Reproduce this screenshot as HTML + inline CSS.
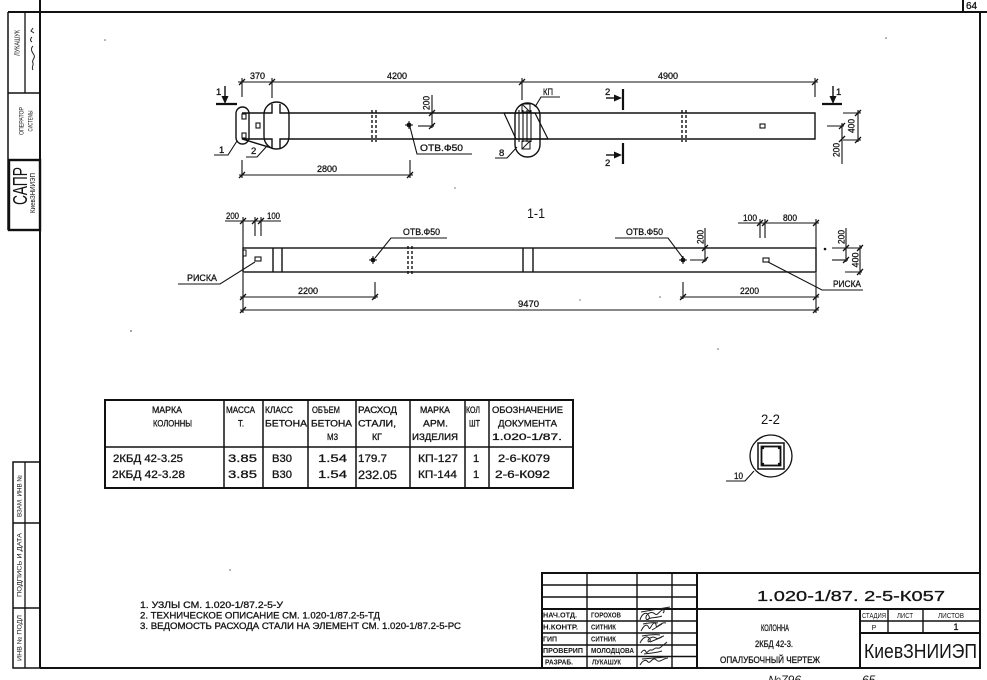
<!DOCTYPE html>
<html><head><meta charset="utf-8">
<style>
html,body{margin:0;padding:0;background:#fff;}
svg{display:block;}
text{font-family:"Liberation Sans","DejaVu Sans",sans-serif;fill:#151515;stroke:#151515;stroke-width:0.3;}
.thin{stroke-width:0;}
</style></head><body>
<svg width="987" height="680" viewBox="0 0 987 680" xmlns="http://www.w3.org/2000/svg">
<rect width="987" height="680" fill="#fff"/>

<!-- ================= FRAME ================= -->
<g stroke="#111" fill="none" stroke-width="2">
  <line x1="40" y1="0" x2="40" y2="668"/>
  <line x1="8" y1="12" x2="987" y2="12"/>
  <line x1="963" y1="0" x2="963" y2="12"/>
  <line x1="980" y1="12" x2="980" y2="668"/>
  <line x1="40" y1="668" x2="980" y2="668"/>
  <line x1="8" y1="12" x2="8" y2="230" stroke-width="1.5"/>
  <line x1="8" y1="93" x2="40" y2="93" stroke-width="1.5"/>
  <line x1="8" y1="160" x2="40" y2="160" stroke-width="1.5"/>
  <line x1="25" y1="12" x2="25" y2="93" stroke-width="1.3"/>
  <rect x="9" y="160" width="31" height="70" stroke-width="2.4"/>
  <rect x="13" y="462" width="27" height="206" stroke-width="1.5"/>
  <line x1="13" y1="523" x2="40" y2="523" stroke-width="1.5"/>
  <line x1="13" y1="608" x2="40" y2="608" stroke-width="1.5"/>
  <line x1="25" y1="462" x2="25" y2="668" stroke-width="1.3"/>
</g>
<text x="966" y="9" font-size="10">64</text>

<!-- left margin labels -->
<text class="thin" transform="translate(19.5,43) rotate(-90)" text-anchor="middle" font-size="7" textLength="26" lengthAdjust="spacingAndGlyphs">ЛУКАШУК</text>
<path d="M33,28 l-2,3 l3,2 M32,37 q-3,3 0,5 M33,46 c-3,3 -1,6 1,9 c2,3 -3,5 -1,8 c1,2 -2,4 0,7" stroke="#222" stroke-width="1" fill="none"/>
<text class="thin" transform="translate(23.5,121) rotate(-90)" text-anchor="middle" font-size="6.5" textLength="28" lengthAdjust="spacingAndGlyphs">ОПЕРАТОР</text>
<text class="thin" transform="translate(32.5,121) rotate(-90)" text-anchor="middle" font-size="6.5" textLength="21" lengthAdjust="spacingAndGlyphs">СИСТЕМЫ</text>
<text class="thin" transform="translate(27,186) rotate(-90)" text-anchor="middle" font-size="20" textLength="38" lengthAdjust="spacingAndGlyphs">САПР</text>
<text class="thin" transform="translate(35,193) rotate(-90)" text-anchor="middle" font-size="7" textLength="40" lengthAdjust="spacingAndGlyphs">КиевЗНИИЭП</text>
<text class="thin" transform="translate(21.5,496) rotate(-90)" text-anchor="middle" font-size="6.5" textLength="42" lengthAdjust="spacingAndGlyphs">ВЗАМ. ИНВ №</text>
<text class="thin" transform="translate(21.5,565) rotate(-90)" text-anchor="middle" font-size="6.5" textLength="64" lengthAdjust="spacingAndGlyphs">ПОДПИСЬ И ДАТА</text>
<text class="thin" transform="translate(21.5,638) rotate(-90)" text-anchor="middle" font-size="6.5" textLength="46" lengthAdjust="spacingAndGlyphs">ИНВ № ПОДЛ</text>

<!-- ================= TOP VIEW ================= -->
<g stroke="#111" fill="none" stroke-width="1.4">
  <path d="M242,113 H272 V104 M280,104 V113 H815 V139 H280 V148 M272,148 V139 H242 Z"/>
  <rect x="242" y="114" width="4" height="5" stroke-width="1.1"/>
  <rect x="242" y="133" width="4" height="5" stroke-width="1.1"/>
  <rect x="236" y="107" width="13" height="37" rx="6.5"/>
  <rect x="264" y="102" width="25" height="47" rx="12.5"/>
  <rect x="256" y="123" width="4" height="5" stroke-width="1.1"/>
  <line x1="372" y1="110" x2="372" y2="142" stroke-dasharray="3,2"/>
  <line x1="376" y1="110" x2="376" y2="142" stroke-dasharray="3,2"/>
  <line x1="682" y1="110" x2="682" y2="142" stroke-dasharray="3,2"/>
  <line x1="686" y1="110" x2="686" y2="142" stroke-dasharray="3,2"/>
  <rect x="760" y="124" width="5" height="4" stroke-width="1.1"/>
  <rect x="515" y="103" width="25" height="54" rx="12.5"/>
  <path d="M504,113 L516,139 M535,113 L548,139 M504,113 H535 M516,139 H548" stroke-width="1.2"/>
  <path d="M519,110 V142 M523,110 V142 M527,110 V142 M531,110 V142" stroke-width="1.1"/>
  <path d="M522,104 h8 v8 h-8 z M522,104 L530,112 M522,141 h8 v8 h-8 z M530,141 L522,149" stroke-width="1"/>
  <path d="M237,141 L228,155 H214" stroke-width="1.1"/>
  <path d="M267,146 L257,157 H246" stroke-width="1.1"/>
  <path d="M517,147 L507,158 H495" stroke-width="1.1"/>
  <path d="M535,107 L541,97 H560" stroke-width="1.1"/>
  <path d="M410,127 L417,154 H472" stroke-width="1.1"/>
  <g stroke-width="1.1">
    <line x1="238" y1="82" x2="818" y2="82"/>
    <line x1="242" y1="78" x2="242" y2="97"/>
    <line x1="272" y1="78" x2="272" y2="98"/>
    <line x1="522" y1="78" x2="522" y2="100"/>
    <line x1="815" y1="78" x2="815" y2="97"/>
    <line x1="239" y1="175" x2="413" y2="175"/>
    <line x1="242" y1="160" x2="242" y2="178"/>
    <line x1="410" y1="160" x2="410" y2="178"/>
    <line x1="432" y1="95" x2="432" y2="128"/>
    <line x1="418" y1="126" x2="434" y2="126"/>
    <line x1="858" y1="110" x2="858" y2="142"/>
    <line x1="843" y1="113" x2="861" y2="113"/>
    <line x1="843" y1="140" x2="861" y2="140"/>
    <line x1="842" y1="123" x2="842" y2="164"/>
    <line x1="827" y1="126" x2="844" y2="126"/>
  </g>
  <g stroke-width="1.3">
    <path d="M239,85 l6,-6 M269,85 l6,-6 M519,85 l6,-6 M812,85 l6,-6 M239,178 l6,-6 M407,178 l6,-6"/>
    <path d="M429,116 l6,-6 M429,129 l6,-6 M855,116 l6,-6 M855,143 l6,-6 M839,129 l6,-6 M839,142 l6,-6"/>
  </g>
  <line x1="216" y1="104" x2="237" y2="104" stroke-width="2.2"/>
  <line x1="225" y1="86" x2="225" y2="99"/>
  <line x1="822" y1="104" x2="842" y2="104" stroke-width="2.2"/>
  <line x1="833" y1="86" x2="833" y2="99"/>
  <line x1="623" y1="89" x2="623" y2="110" stroke-width="2.2"/>
  <line x1="606" y1="98" x2="617" y2="98"/>
  <line x1="623" y1="143" x2="623" y2="164" stroke-width="2.2"/>
  <line x1="606" y1="155" x2="617" y2="155"/>
</g>
<g fill="#111">
  <polygon points="221.5,96 228.5,96 225,104"/>
  <polygon points="829.5,96 836.5,96 833,104"/>
  <polygon points="614,94.5 614,101.5 622,98"/>
  <polygon points="614,151.5 614,158.5 622,155"/>
  <circle cx="409" cy="125" r="2.4"/>
  <path d="M405,125 h8 M409,121 v8" stroke="#111" stroke-width="1"/>
</g>
<g font-size="9.5">
  <text x="250" y="79" textLength="15" lengthAdjust="spacingAndGlyphs">370</text>
  <text x="387" y="79" textLength="20" lengthAdjust="spacingAndGlyphs">4200</text>
  <text x="658" y="79" textLength="20" lengthAdjust="spacingAndGlyphs">4900</text>
  <text x="317" y="172" textLength="20" lengthAdjust="spacingAndGlyphs">2800</text>
  <text x="420" y="151" textLength="43" lengthAdjust="spacingAndGlyphs">ОТВ.Ф50</text>
  <text x="216" y="95">1</text>
  <text x="836" y="95">1</text>
  <text x="219" y="153">1</text>
  <text x="251" y="154">2</text>
  <text x="499" y="156">8</text>
  <text x="543" y="95" textLength="10" lengthAdjust="spacingAndGlyphs">КП</text>
  <text x="605" y="95">2</text>
  <text x="605" y="166">2</text>
  <text transform="translate(429.5,103) rotate(-90)" text-anchor="middle" textLength="14" lengthAdjust="spacingAndGlyphs">200</text>
  <text transform="translate(854.5,126) rotate(-90)" text-anchor="middle" textLength="14" lengthAdjust="spacingAndGlyphs">400</text>
  <text transform="translate(839.5,150) rotate(-90)" text-anchor="middle" textLength="14" lengthAdjust="spacingAndGlyphs">200</text>
</g>

<!-- ================= SECTION 1-1 ================= -->
<text class="thin" x="527" y="218" font-size="13.5" textLength="18" lengthAdjust="spacingAndGlyphs">1-1</text>
<g stroke="#111" fill="none" stroke-width="1.4">
  <rect x="243" y="248" width="573" height="24"/>
  <path d="M243,250 h3 v6 h-3" stroke-width="1"/>
  <line x1="273" y1="248" x2="273" y2="272"/>
  <line x1="282" y1="248" x2="282" y2="272"/>
  <line x1="523" y1="248" x2="523" y2="272"/>
  <line x1="533" y1="248" x2="533" y2="272"/>
  <line x1="408" y1="246" x2="408" y2="274" stroke-dasharray="3,2"/>
  <line x1="412" y1="246" x2="412" y2="274" stroke-dasharray="3,2"/>
  <rect x="255" y="257" width="6" height="4" stroke-width="1.1"/>
  <rect x="763" y="258" width="6" height="4" stroke-width="1.1"/>
  <g stroke-width="1.1">
    <path d="M255,262 L220,284 H178"/>
    <path d="M375,258 L391,238 H447"/>
    <path d="M683,258 L668,238 H615"/>
    <path d="M768,262 L822,290 H863"/>
    <line x1="225" y1="221" x2="281" y2="221"/>
    <line x1="243" y1="217" x2="243" y2="248"/>
    <line x1="255" y1="217" x2="255" y2="236"/>
    <line x1="261" y1="217" x2="261" y2="236"/>
    <line x1="738" y1="223" x2="819" y2="223"/>
    <line x1="760" y1="219" x2="760" y2="238"/>
    <line x1="765" y1="219" x2="765" y2="238"/>
    <line x1="816" y1="219" x2="816" y2="248"/>
    <line x1="705" y1="228" x2="705" y2="262"/>
    <line x1="690" y1="260" x2="707" y2="260"/>
    <line x1="846" y1="228" x2="846" y2="262"/>
    <line x1="860" y1="245" x2="860" y2="275"/>
    <line x1="832" y1="248" x2="862" y2="248"/>
    <line x1="832" y1="260" x2="848" y2="260"/>
    <line x1="845" y1="272" x2="862" y2="272"/>
    <line x1="240" y1="297" x2="378" y2="297"/>
    <line x1="680" y1="297" x2="819" y2="297"/>
    <line x1="240" y1="310" x2="819" y2="310"/>
    <line x1="243" y1="273" x2="243" y2="313"/>
    <line x1="816" y1="273" x2="816" y2="313"/>
    <line x1="375" y1="282" x2="375" y2="299"/>
    <line x1="683" y1="282" x2="683" y2="299"/>
  </g>
  <g stroke-width="1.3">
    <path d="M240,224 l6,-6 M252,224 l6,-6 M258,224 l6,-6 M757,226 l6,-6 M762,226 l6,-6 M813,226 l6,-6"/>
    <path d="M702,251 l6,-6 M702,263 l6,-6 M843,251 l6,-6 M843,263 l6,-6 M857,251 l6,-6 M857,275 l6,-6"/>
    <path d="M240,300 l6,-6 M372,300 l6,-6 M680,300 l6,-6 M813,300 l6,-6 M240,313 l6,-6 M813,313 l6,-6"/>
  </g>
</g>
<g fill="#111">
  <circle cx="373" cy="260" r="2.4"/>
  <path d="M369,260 h8 M373,256 v8" stroke="#111" stroke-width="1"/>
  <circle cx="683" cy="260" r="2.4"/>
  <path d="M679,260 h8 M683,256 v8" stroke="#111" stroke-width="1"/>
  <circle cx="825" cy="249" r="1.3"/>
</g>
<g font-size="9.5">
  <text x="226" y="219" textLength="13" lengthAdjust="spacingAndGlyphs">200</text>
  <text x="267" y="219" textLength="13" lengthAdjust="spacingAndGlyphs">100</text>
  <text x="403" y="235" textLength="37" lengthAdjust="spacingAndGlyphs">ОТВ.Ф50</text>
  <text x="626" y="235" textLength="37" lengthAdjust="spacingAndGlyphs">ОТВ.Ф50</text>
  <text x="743" y="221" textLength="14" lengthAdjust="spacingAndGlyphs">100</text>
  <text x="783" y="221" textLength="14" lengthAdjust="spacingAndGlyphs">800</text>
  <text x="187" y="281" textLength="30" lengthAdjust="spacingAndGlyphs">РИСКА</text>
  <text x="833" y="287" textLength="28" lengthAdjust="spacingAndGlyphs">РИСКА</text>
  <text x="298" y="294" textLength="20" lengthAdjust="spacingAndGlyphs">2200</text>
  <text x="518" y="307" textLength="21" lengthAdjust="spacingAndGlyphs">9470</text>
  <text x="740" y="294" textLength="19" lengthAdjust="spacingAndGlyphs">2200</text>
  <text transform="translate(703.5,237) rotate(-90)" text-anchor="middle" textLength="14" lengthAdjust="spacingAndGlyphs">200</text>
  <text transform="translate(844.5,237) rotate(-90)" text-anchor="middle" textLength="14" lengthAdjust="spacingAndGlyphs">200</text>
  <text transform="translate(858.5,260) rotate(-90)" text-anchor="middle" textLength="15" lengthAdjust="spacingAndGlyphs">400</text>
</g>

<!-- ================= TABLE ================= -->
<g stroke="#111" fill="none">
  <rect x="105" y="400" width="468" height="88" stroke-width="2"/>
  <line x1="105" y1="447" x2="573" y2="447" stroke-width="1.6"/>
  <g stroke-width="1.5">
    <line x1="224" y1="400" x2="224" y2="488"/>
    <line x1="263" y1="400" x2="263" y2="488"/>
    <line x1="308" y1="400" x2="308" y2="488"/>
    <line x1="356" y1="400" x2="356" y2="488"/>
    <line x1="410" y1="400" x2="410" y2="488"/>
    <line x1="465" y1="400" x2="465" y2="488"/>
    <line x1="489" y1="400" x2="489" y2="488"/>
  </g>
</g>
<g font-size="9.5">
  <text x="152" y="413" textLength="30" lengthAdjust="spacingAndGlyphs">МАРКА</text>
  <text x="153" y="426.5" textLength="39" lengthAdjust="spacingAndGlyphs">КОЛОННЫ</text>
  <text x="226" y="413" textLength="29" lengthAdjust="spacingAndGlyphs">МАССА</text>
  <text x="238" y="426.5" textLength="6" lengthAdjust="spacingAndGlyphs">Т.</text>
  <text x="265" y="413" textLength="28" lengthAdjust="spacingAndGlyphs">КЛАСС</text>
  <text x="265" y="426.5" textLength="42" lengthAdjust="spacingAndGlyphs">БЕТОНА</text>
  <text x="312" y="413" textLength="28" lengthAdjust="spacingAndGlyphs">ОБЪЕМ</text>
  <text x="311" y="426.5" textLength="41" lengthAdjust="spacingAndGlyphs">БЕТОНА</text>
  <text x="327" y="440" textLength="11" lengthAdjust="spacingAndGlyphs">М3</text>
  <text x="358" y="413" textLength="39" lengthAdjust="spacingAndGlyphs">РАСХОД</text>
  <text x="358" y="426.5" textLength="38" lengthAdjust="spacingAndGlyphs">СТАЛИ,</text>
  <text x="372" y="440" textLength="10" lengthAdjust="spacingAndGlyphs">КГ</text>
  <text x="420" y="413" textLength="30" lengthAdjust="spacingAndGlyphs">МАРКА</text>
  <text x="423" y="426.5" textLength="25" lengthAdjust="spacingAndGlyphs">АРМ.</text>
  <text x="412" y="440" textLength="46" lengthAdjust="spacingAndGlyphs">ИЗДЕЛИЯ</text>
  <text x="466" y="413" textLength="14" lengthAdjust="spacingAndGlyphs">КОЛ</text>
  <text x="469" y="426.5" textLength="11" lengthAdjust="spacingAndGlyphs">ШТ</text>
  <text x="492" y="413" textLength="71" lengthAdjust="spacingAndGlyphs">ОБОЗНАЧЕНИЕ</text>
  <text x="498" y="426.5" textLength="59" lengthAdjust="spacingAndGlyphs">ДОКУМЕНТА</text>
  <text x="492" y="440" textLength="70" lengthAdjust="spacingAndGlyphs">1.020-1/87.</text>
</g>
<g font-size="11">
  <text x="113" y="462" textLength="70" lengthAdjust="spacingAndGlyphs">2КБД 42-3.25</text>
  <text x="228" y="462" textLength="29" lengthAdjust="spacingAndGlyphs">3.85</text>
  <text x="272" y="462" textLength="20" lengthAdjust="spacingAndGlyphs">В30</text>
  <text x="318" y="462" textLength="29" lengthAdjust="spacingAndGlyphs">1.54</text>
  <text x="358" y="462" textLength="29" lengthAdjust="spacingAndGlyphs">179.7</text>
  <text x="418" y="462" textLength="40" lengthAdjust="spacingAndGlyphs">КП-127</text>
  <text x="473" y="462">1</text>
  <text x="498" y="462" textLength="52" lengthAdjust="spacingAndGlyphs">2-6-К079</text>
  <text x="112" y="478" textLength="73" lengthAdjust="spacingAndGlyphs">2КБД 42-3.28</text>
  <text x="228" y="478" textLength="29" lengthAdjust="spacingAndGlyphs">3.85</text>
  <text x="272" y="478" textLength="20" lengthAdjust="spacingAndGlyphs">В30</text>
  <text x="318" y="478" textLength="29" lengthAdjust="spacingAndGlyphs">1.54</text>
  <text x="358" y="479" font-size="12" textLength="39" lengthAdjust="spacingAndGlyphs">232.05</text>
  <text x="418" y="478" textLength="39" lengthAdjust="spacingAndGlyphs">КП-144</text>
  <text x="473" y="478">1</text>
  <text x="495" y="478" textLength="55" lengthAdjust="spacingAndGlyphs">2-6-К092</text>
</g>

<!-- ================= SECTION 2-2 ================= -->
<text class="thin" x="761" y="424" font-size="13.5" textLength="19" lengthAdjust="spacingAndGlyphs">2-2</text>
<g stroke="#111" fill="none" stroke-width="1.3">
  <circle cx="771" cy="456" r="21"/>
  <rect x="758" y="443" width="26" height="26" stroke-width="1.5"/>
  <rect x="761.5" y="446.5" width="19" height="19" stroke-width="1.8"/>
  <path d="M754,471 L745,481 H726" stroke-width="1.1"/>
</g>
<g fill="#111">
  <circle cx="763" cy="448" r="1.2"/><circle cx="779" cy="448" r="1.2"/>
  <circle cx="763" cy="464" r="1.2"/><circle cx="779" cy="464" r="1.2"/>
</g>
<text x="734" y="479" font-size="9.5" textLength="9" lengthAdjust="spacingAndGlyphs">10</text>

<!-- ================= NOTES ================= -->
<g font-size="9.5">
  <text x="140" y="608" textLength="143" lengthAdjust="spacingAndGlyphs">1. УЗЛЫ СМ. 1.020-1/87.2-5-У</text>
  <text x="140" y="618.5" textLength="240" lengthAdjust="spacingAndGlyphs">2. ТЕХНИЧЕСКОЕ ОПИСАНИЕ СМ. 1.020-1/87.2-5-ТД</text>
  <text x="140" y="629" textLength="321" lengthAdjust="spacingAndGlyphs">3. ВЕДОМОСТЬ РАСХОДА СТАЛИ НА ЭЛЕМЕНТ СМ. 1.020-1/87.2-5-РС</text>
</g>

<!-- ================= TITLE BLOCK ================= -->
<g stroke="#111" fill="none">
  <rect x="542" y="573" width="438" height="95" stroke-width="2"/>
  <g stroke-width="1.4">
    <line x1="587" y1="573" x2="587" y2="668"/>
    <line x1="637" y1="573" x2="637" y2="668"/>
    <line x1="672" y1="573" x2="672" y2="668"/>
    <line x1="542" y1="585" x2="697" y2="585"/>
    <line x1="542" y1="597" x2="697" y2="597"/>
    <line x1="542" y1="621" x2="697" y2="621"/>
    <line x1="542" y1="633" x2="697" y2="633"/>
    <line x1="542" y1="645" x2="697" y2="645"/>
    <line x1="542" y1="656.5" x2="697" y2="656.5"/>
    <line x1="860" y1="621" x2="980" y2="621"/>
    <line x1="888" y1="609" x2="888" y2="633"/>
    <line x1="923" y1="609" x2="923" y2="633"/>
  </g>
  <g stroke-width="2">
    <line x1="697" y1="573" x2="697" y2="668"/>
    <line x1="542" y1="609" x2="980" y2="609"/>
    <line x1="860" y1="609" x2="860" y2="668"/>
    <line x1="860" y1="633" x2="980" y2="633"/>
  </g>
  <g stroke="#222" stroke-width="1">
    <path d="M640,620 c2,-7 7,-9 9,-4 c2,4 -4,5 -3,1 c1,-4 6,-6 9,-3 c2,2 4,-2 7,-4 c2,-1 3,1 1,3 M641,612 L670,607 M648,619 c4,-2 9,-1 14,-3"/>
    <path d="M641,631 c3,-6 6,-8 8,-3 c1,3 3,-6 6,-5 c2,1 0,5 3,3 c3,-2 5,-4 8,-3 M643,624 c5,-1 10,-2 15,-1 M652,630 l10,-6"/>
    <path d="M640,643 c3,-6 7,-8 10,-4 c1,2 -2,4 -2,2 c0,-3 5,-5 8,-3 c2,2 5,-2 8,-2 M642,636 c6,-1 12,-2 18,-1 M650,642 l12,-5"/>
    <path d="M641,653 c2,-3 4,-4 5,-1 c1,2 3,-3 5,-2 c2,1 3,-2 5,-2 c2,0 3,1 5,-1 c2,-2 4,-3 6,-5 M644,654 c6,-1 12,-1 18,-3"/>
    <path d="M640,665 c3,-5 6,-6 8,-3 c2,2 4,-4 7,-3 c2,1 2,3 5,2 c3,-1 5,-3 8,-3 M642,659 l24,-2"/>
  </g>
</g>
<text x="757" y="601" font-size="15" textLength="188" lengthAdjust="spacingAndGlyphs">1.020-1/87. 2-5-К057</text>
<g font-size="7" font-weight="bold">
  <text class="thin" x="543" y="617.5" textLength="34" lengthAdjust="spacingAndGlyphs">НАЧ.ОТД.</text>
  <text class="thin" x="543" y="629.5" textLength="35" lengthAdjust="spacingAndGlyphs">Н.КОНТР.</text>
  <text class="thin" x="543" y="641.5" textLength="14" lengthAdjust="spacingAndGlyphs">ГИП</text>
  <text class="thin" x="543" y="653" textLength="40" lengthAdjust="spacingAndGlyphs">ПРОВЕРИП</text>
  <text class="thin" x="545" y="664.5" textLength="28" lengthAdjust="spacingAndGlyphs">РАЗРАБ.</text>
  <text class="thin" x="591" y="617.5" textLength="30" lengthAdjust="spacingAndGlyphs">ГОРОХОВ</text>
  <text class="thin" x="591" y="629.5" textLength="25" lengthAdjust="spacingAndGlyphs">СИТНИК</text>
  <text class="thin" x="591" y="641.5" textLength="25" lengthAdjust="spacingAndGlyphs">СИТНИК</text>
  <text class="thin" x="591" y="653" textLength="43" lengthAdjust="spacingAndGlyphs">МОЛОДЦОВА</text>
  <text class="thin" x="592" y="664.5" textLength="29" lengthAdjust="spacingAndGlyphs">ЛУКАШУК</text>
</g>
<g font-size="9.5" text-anchor="middle">
  <text x="775" y="631" textLength="28" lengthAdjust="spacingAndGlyphs">КОЛОННА</text>
  <text x="774" y="647" textLength="38" lengthAdjust="spacingAndGlyphs">2КБД 42-3.</text>
  <text x="770" y="663" textLength="100" lengthAdjust="spacingAndGlyphs">ОПАЛУБОЧНЫЙ ЧЕРТЕЖ</text>
</g>
<g font-size="7" text-anchor="middle">
  <text class="thin" x="874" y="618" textLength="24" lengthAdjust="spacingAndGlyphs">СТАДИЯ</text>
  <text class="thin" x="905" y="618" textLength="16" lengthAdjust="spacingAndGlyphs">ЛИСТ</text>
  <text class="thin" x="951" y="618" textLength="26" lengthAdjust="spacingAndGlyphs">ЛИСТОВ</text>
  <text class="thin" x="874" y="630">Р</text>
  <text x="956" y="630" font-size="9">1</text>
</g>
<text class="thin" x="864" y="658" font-size="20" textLength="113" lengthAdjust="spacingAndGlyphs">КиевЗНИИЭП</text>

<text class="thin" x="768" y="684" font-size="12" font-style="italic">№796</text>
<text class="thin" x="862" y="684" font-size="12" font-style="italic">65</text>

<g fill="#666">
  <circle cx="131" cy="331" r="0.9"/><circle cx="718" cy="349" r="0.8"/>
  <circle cx="660" cy="297" r="0.8"/><circle cx="886" cy="38" r="0.8"/>
  <circle cx="105" cy="40" r="0.8"/><circle cx="580" cy="300" r="0.7"/>
  <circle cx="230" cy="570" r="0.8"/><circle cx="455" cy="188" r="0.7"/>
</g>
</svg>
</body></html>
